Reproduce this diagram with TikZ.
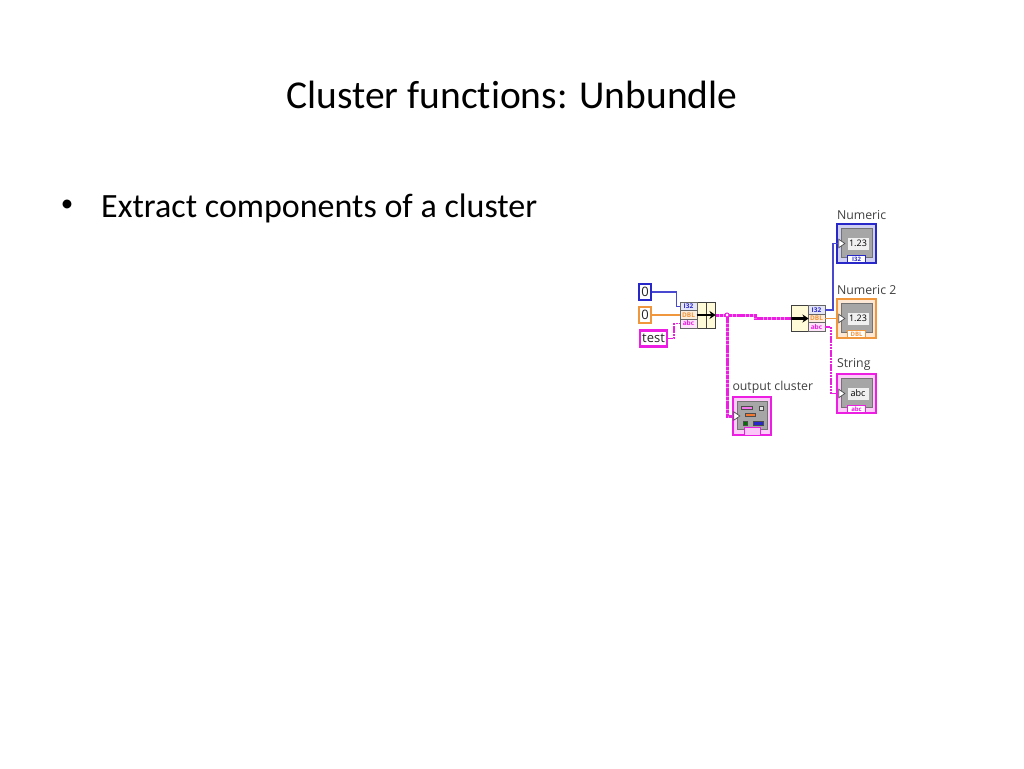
\documentclass[tikz,border=0pt]{standalone}
\usepackage{fontspec}
\setmainfont[Ligatures=NoCommon]{Carlito}
\newfontfamily\lvfont{Open Sans}
\usetikzlibrary{shapes.geometric, arrows.meta, positioning, calc}

\definecolor{lvblue}{RGB}{40,40,200}
\definecolor{lvorange}{RGB}{240,150,60}
\definecolor{lvpink}{RGB}{235,30,225}
\definecolor{lvcream}{RGB}{255,250,215}

\begin{document}
\begin{tikzpicture}[
  x=1pt, y=-1pt,
  titletext/.style={font=\fontsize{39.5}{44}\selectfont, text=black, inner sep=0pt},
  bodytext/.style={font=\fontsize{34}{38}\selectfont, text=black, inner sep=0pt},
  lbl/.style={font=\lvfont\fontsize{12.3}{14}\selectfont, text=black!75, inner sep=0pt},
  ctrl/.style={
    rectangle, line width=2.6pt, fill=white,
    font=\lvfont\fontsize{13}{14}\selectfont, text=black!85, inner sep=0pt,
    minimum height=16pt},
  fnbox/.style={
    rectangle, draw=black!75, fill=lvcream, line width=1pt, inner sep=0pt},
  termbox/.style={
    rectangle, draw=black!60, line width=.6pt, inner sep=0pt,
    minimum width=17pt, minimum height=8.6pt,
    font=\lvfont\bfseries\fontsize{6.5}{7}\selectfont},
  framebox/.style={
    rectangle, line width=1.4pt, inner sep=0pt,
    minimum width=39pt, minimum height=39pt},
  panel/.style={
    rectangle, draw=black!55, fill=black!35, line width=.6pt, inner sep=0pt,
    minimum width=31pt, minimum height=29pt},
  display/.style={
    rectangle, fill=black!6, inner sep=0pt, minimum width=21pt, minimum height=12pt,
    font=\lvfont\fontsize{9}{10}\selectfont, text=black},
  tagbox/.style={
    rectangle, fill=white, line width=.8pt, inner sep=0pt,
    minimum width=18pt, minimum height=7pt,
    font=\lvfont\bfseries\fontsize{6}{7}\selectfont},
  pin/.style={
    isosceles triangle, isosceles triangle apex angle=70, draw=black!70, fill=white,
    line width=.7pt, inner sep=0pt, minimum size=6pt},
  bar/.style={rectangle, inner sep=0pt, draw=black!70, line width=.5pt},
  wireblue/.style={draw=lvblue!85, line width=1.4pt},
  wireorange/.style={draw=lvorange, line width=1.3pt},
  wirepink/.style={draw=lvpink, line width=1.8pt, dash pattern=on 2.2pt off .6pt},
  wirecluster/.style={draw=lvpink, line width=3pt, dash pattern=on 3.5pt off .8pt,
    preaction={draw=lvpink!45, solid, line width=3pt}},
  fnarrow/.style={-{Stealth[length=6pt,width=8pt]}, line width=2.6pt, draw=black},
]
\useasboundingbox (0,0) rectangle (1024,768);

%% ---- Slide text ----
\node[titletext] (title) at (512, 95) {Cluster functions: Unbundle};
\node[bodytext, anchor=west] (item) at (101, 208) {Extract components of a cluster};
\node[bodytext, font=\fontsize{25}{30}\selectfont] (dot) at (67, 206) {•};

%% ---- Controls ----
\node[ctrl, draw=lvblue, minimum width=12pt] (c1) at (645, 292) {0};
\node[ctrl, draw=lvorange, minimum width=12pt] (c2) at (645, 315) {0};
\node[ctrl, draw=lvpink, minimum width=27pt] (c3) at (653.5, 338.5) {test};

%% ---- Bundle ----
\node[fnbox, minimum width=9pt, minimum height=26pt] (bmid) at (701.5, 315) {};
\node[fnbox, minimum width=9pt, minimum height=26pt] (bout) at (710.5, 315) {};
\node[termbox, fill=lvblue!12, text=lvblue] (b1) at (688.5, 306.5) {I32};
\node[termbox, fill=lvorange!18, text=lvorange] (b2) at (688.5, 315) {DBL};
\node[termbox, fill=lvpink!12, text=lvpink] (b3) at (688.5, 323.5) {abc};
\draw[fnarrow] (bmid.west) -- (bout.east);

%% ---- Unbundle ----
\node[fnbox, minimum width=17pt, minimum height=26pt] (ubox) at (799.5, 318.5) {};
\node[termbox, fill=lvblue!12, text=lvblue] (u1) at (816.5, 310) {I32};
\node[termbox, fill=lvorange!18, text=lvorange] (u2) at (816.5, 318.5) {DBL};
\node[termbox, fill=lvpink!12, text=lvpink] (u3) at (816.5, 327) {abc};
\draw[fnarrow] (ubox.west) -- (ubox.east);

%% ---- Indicators ----
\foreach \nm/\col/\ypos/\disp/\tagt/\capt in {
    num/lvblue/243.5/1.23/I32/Numeric,
    numb/lvorange/318.5/1.23/DBL/Numeric 2,
    str/lvpink/393.5/abc/abc/String} {
  \node[framebox, draw=\col, fill=\col!22] (\nm) at (856.5, \ypos) {};
  \node[panel] (\nm p) at (856.5, \ypos-1) {};
  \node[display] (\nm d) at (858, \ypos) {\disp};
  \node[tagbox, draw=\col, text=\col] (\nm t) at (856.5, \ypos+15.5) {\tagt};
  \node[pin] (\nm i) at (841, \ypos) {};
  \node[lbl, above=3pt of \nm.north west, anchor=south west, xshift=.5pt] (\nm l) {\capt};
}

%% ---- Output cluster indicator ----
\node[framebox, draw=lvpink, fill=lvpink!22, minimum width=38pt, minimum height=38pt] (out) at (752, 416) {};
\node[panel, minimum width=30pt, minimum height=28pt] (outp) at (752, 415) {};
\node[bar, fill=lvpink!60, minimum width=11pt, minimum height=3pt] (outa) at (747, 408) {};
\node[bar, fill=black!10, minimum width=4pt, minimum height=4pt] (outb) at (761, 408) {};
\node[bar, fill=lvorange!80!red, minimum width=10pt, minimum height=3pt] (outc) at (750, 415) {};
\node[bar, fill=green!45!black, minimum width=4pt, minimum height=4pt] (outd) at (745, 423) {};
\node[bar, fill=lvblue, minimum width=10pt, minimum height=4pt] (oute) at (758, 423) {};
\node[tagbox, draw=lvpink, fill=lvpink!25, minimum width=16pt, minimum height=8pt] (outt) at (752, 431) {};
\node[pin] (outi) at (736, 416) {};
\node[lbl, above=3pt of out.north west, anchor=south west] (outl) {output cluster};

%% ---- Wires ----
\draw[wireblue] (c1.east) -- ++(24,0) |- (b1.west);
\draw[wireorange] (c2.east) -- (b2.west);
\draw[wirepink] (c3.east) -- ++(6,0) |- (b3.west);

\coordinate (jct) at (727, 315);
\draw[wirecluster] (bout.east) -- (jct) -- ++(28,0) -- ++(0,3.5) -- (ubox.west);
\draw[wirecluster] (jct) |- (outi.west);
\node[circle, draw=lvpink, fill=white, line width=1pt, inner sep=0pt, minimum size=4pt] (jdot) at (jct) {};

\draw[wireblue] (u1.east) -- ++(7.5,0) |- (numi.west);
\draw[wireorange] (u2.east) -- (numbi.west);
\draw[wirepink] (u3.east) -- ++(5.5,0) |- (stri.west);

\end{tikzpicture}
\end{document}
